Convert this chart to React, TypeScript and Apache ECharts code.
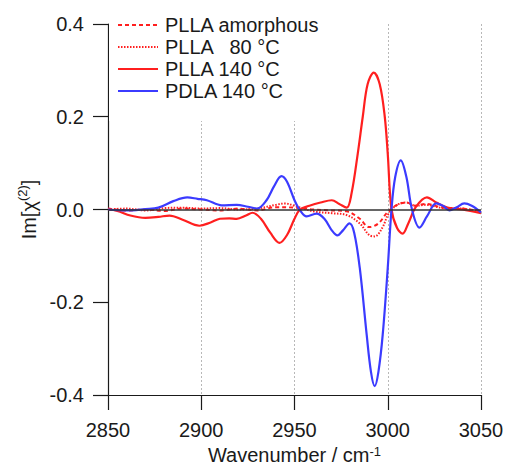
import React, { useEffect, useRef } from 'react';
import * as echarts from 'echarts';

const FONT = "'Liberation Sans', Arial, sans-serif";

const seriesNames = ['PLLA amorphous', 'PLLA   80 °C', 'PLLA 140 °C', 'PDLA 140 °C'];

const xTicks = [2850, 2900, 2950, 3000, 3050];
const yTicks = [-0.4, -0.2, 0.0, 0.2, 0.4];

// PLLA amorphous (dashed)
const amorphousX = [2850, 2860, 2870, 2880, 2890, 2900, 2910, 2920, 2930, 2940, 2950, 2960, 2970, 2978, 2985, 2990, 2995, 3000, 3005, 3010, 3015, 3020, 3030, 3040, 3050];
const amorphousY = [0.002, -0.002, 0.0, -0.003, 0.002, 0.0, -0.002, 0.002, -0.002, 0.005, 0.004, 0.0, -0.002, -0.004, -0.02, -0.038, -0.03, -0.005, 0.01, 0.015, 0.008, 0.012, 0.004, 0.002, -0.004];

// PLLA 80 °C (dotted)
const plla80X = [2850, 2860, 2870, 2880, 2890, 2900, 2910, 2920, 2930, 2940, 2945, 2950, 2960, 2970, 2978, 2985, 2990, 2993, 2997, 3001, 3006, 3010, 3015, 3020, 3030, 3040, 3050];
const plla80Y = [0.0, 0.002, -0.002, 0.003, 0.004, 0.002, 0.003, 0.0, 0.002, 0.01, 0.013, 0.008, -0.004, -0.008, -0.012, -0.03, -0.055, -0.058, -0.04, -0.005, 0.012, 0.015, 0.008, 0.01, 0.003, 0.002, -0.005];

// PLLA 140 °C (solid red)
const plla140X = [2850, 2855, 2862, 2870, 2877, 2883, 2890, 2899, 2905, 2910, 2915, 2919, 2924, 2927.5, 2932, 2937, 2942, 2946, 2950, 2953, 2958, 2964, 2970, 2974, 2978, 2980.6, 2983.9, 2986.6, 2989.2, 2992.5, 2995.7, 2998.4, 3000, 3002, 3005, 3008, 3011, 3015, 3021, 3026, 3032, 3040, 3050];
const plla140Y = [0.0, -0.003, -0.013, -0.018, -0.016, -0.013, -0.022, -0.035, -0.028, -0.02, -0.019, -0.02, -0.013, -0.007, -0.02, -0.05, -0.072, -0.055, -0.02, 0.0, 0.008, 0.015, 0.02, 0.012, 0.004, 0.035, 0.12, 0.2, 0.27, 0.295, 0.27, 0.2, 0.12, 0.0, -0.04, -0.052, -0.03, 0.005, 0.026, 0.015, 0.004, 0.0, -0.008];

// PDLA 140 °C (solid blue)
const pdla140X = [2850, 2860, 2870, 2877, 2885, 2892.5, 2898, 2903, 2911, 2919, 2925, 2930, 2935, 2939, 2943, 2946, 2950, 2953, 2956.5, 2961.8, 2966, 2970, 2973, 2976, 2979.5, 2982, 2985, 2988.7, 2991, 2993, 2995, 2997.3, 3000, 3002, 3004, 3007, 3010, 3013, 3017, 3021, 3026, 3030, 3033, 3037, 3041, 3045, 3050];
const pdla140Y = [0.0, -0.002, 0.001, 0.004, 0.018, 0.026, 0.023, 0.02, 0.009, 0.01, 0.006, 0.002, 0.02, 0.05, 0.072, 0.06, 0.02, -0.002, -0.015, -0.009, -0.02, -0.045, -0.056, -0.045, -0.03, -0.05, -0.126, -0.27, -0.35, -0.381, -0.35, -0.27, -0.126, 0.0, 0.07, 0.106, 0.07, 0.0, -0.039, -0.015, 0.013, 0.007, -0.002, 0.005, 0.013, 0.008, -0.006];

const zip = (xs: number[], ys: number[]) => xs.map((x, i) => [x, ys[i]]);

const RED = '#ff1f1f';
const BLUE = '#3b3bff';
const INK = '#1a1a1a';
const FS = 20;

export default function App() {
  const ref = useRef<HTMLDivElement>(null);
  useEffect(() => {
    const chart = echarts.init(ref.current!, null, { renderer: 'svg' });
    const option: any = {
      animation: false,
      backgroundColor: '#fff',
      textStyle: { fontFamily: FONT },
      grid: { left: 108, right: 30, top: 24, bottom: 72, containLabel: false, outerBoundsMode: 'none' },
      legend: {
        orient: 'vertical',
        left: 109,
        top: 12,
        padding: [3, 8, 20, 8],
        itemWidth: 40,
        itemHeight: 14,
        itemGap: 2,
        backgroundColor: '#fff',
        itemStyle: { opacity: 0 },
        textStyle: { fontSize: FS, color: INK, fontFamily: FONT, padding: [0, 0, 0, 2] },
        data: seriesNames,
      },
      xAxis: {
        type: 'value',
        min: xTicks[0],
        max: xTicks[xTicks.length - 1],
        interval: 50,
        name: '{a|Wavenumber / cm}{s|-1}',
        nameLocation: 'middle',
        nameGap: 50,
        nameTextStyle: {
          rich: {
            a: { fontSize: FS, color: INK, fontFamily: FONT, lineHeight: 20 },
            s: { fontSize: 13, color: INK, fontFamily: FONT, verticalAlign: 'top', lineHeight: 20 },
          },
        },
        axisLine: { show: true, onZero: false, lineStyle: { color: INK, width: 1.2 } },
        axisTick: { show: true, inside: false, length: 15, lineStyle: { color: INK, width: 1.2 } },
        axisLabel: { fontSize: FS, color: INK, margin: 25, fontFamily: FONT, formatter: (v: number) => String(v) },
        splitLine: { show: true, lineStyle: { color: '#b8b8b8', type: [2, 2], width: 1 } },
      },
      yAxis: {
        type: 'value',
        min: yTicks[0],
        max: yTicks[yTicks.length - 1],
        interval: 0.2,
        name: '{a|Im[χ}{s|(2)}{a|]}',
        nameLocation: 'middle',
        nameRotate: 90,
        nameGap: 55,
        nameTextStyle: {
          rich: {
            a: { fontSize: FS, color: INK, fontFamily: FONT, lineHeight: 26 },
            s: { fontSize: 13, color: INK, fontFamily: FONT, verticalAlign: 'top', lineHeight: 26 },
          },
        },
        axisLine: { show: true, onZero: false, lineStyle: { color: INK, width: 1.2 } },
        axisTick: { show: true, inside: false, length: 15, lineStyle: { color: INK, width: 1.2 } },
        axisLabel: {
          fontSize: FS,
          color: INK,
          margin: 24,
          fontFamily: FONT,
          formatter: (v: number) => v.toFixed(1),
        },
        splitLine: { show: false },
      },
      series: [
        {
          name: 'zero',
          type: 'line',
          data: [],
          silent: true,
          markLine: {
            silent: true,
            symbol: ['none', 'none'],
            label: { show: false },
            lineStyle: { color: '#333', width: 1.6, type: 'solid' },
            data: [{ yAxis: 0 }],
          },
        },
        {
          name: seriesNames[0],
          type: 'line',
          data: zip(amorphousX, amorphousY),
          symbol: 'none',
          smooth: 0.35,
          lineStyle: { color: RED, width: 2, type: [4, 3] },
          itemStyle: { color: RED },
        },
        {
          name: seriesNames[1],
          type: 'line',
          data: zip(plla80X, plla80Y),
          symbol: 'none',
          smooth: 0.35,
          lineStyle: { color: RED, width: 2, type: [1.5, 1.5] },
          itemStyle: { color: RED },
        },
        {
          name: seriesNames[2],
          type: 'line',
          data: zip(plla140X, plla140Y),
          symbol: 'none',
          smooth: 0.35,
          lineStyle: { color: RED, width: 2.2, type: 'solid' },
          itemStyle: { color: RED },
        },
        {
          name: seriesNames[3],
          type: 'line',
          data: zip(pdla140X, pdla140Y),
          symbol: 'none',
          smooth: 0.35,
          lineStyle: { color: BLUE, width: 2.2, type: 'solid' },
          itemStyle: { color: BLUE },
        },
      ],
    };
    chart.setOption(option);
    return () => chart.dispose();
  }, []);
  return (
    <div
      ref={ref}
      style={{ position: 'absolute', left: 0, top: 0, width: 511, height: 467 }}
    />
  );
}
